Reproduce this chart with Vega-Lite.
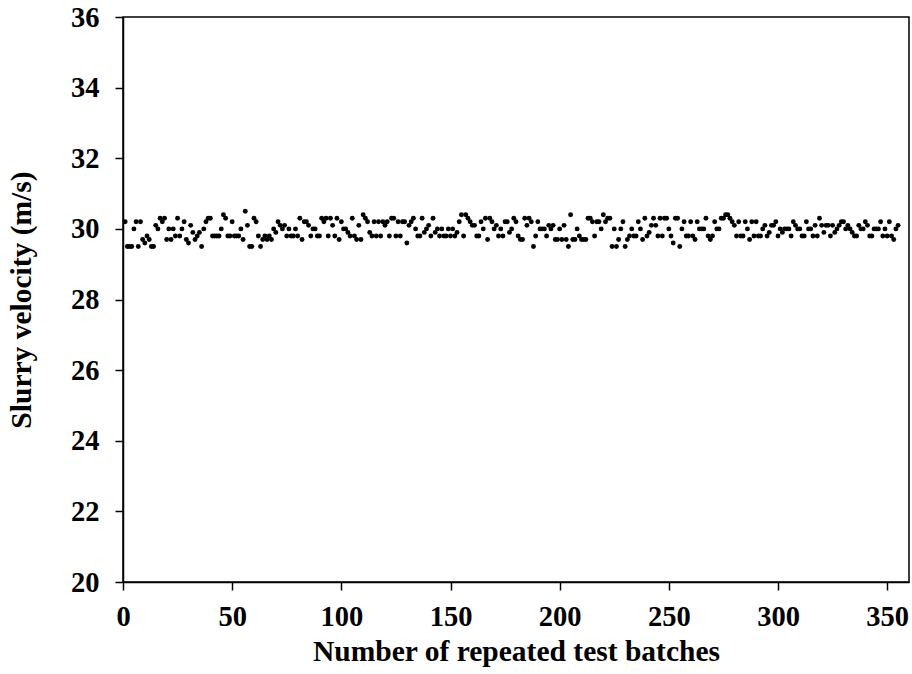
{
  "$schema": "https://vega.github.io/schema/vega-lite/v6.json",
  "width": 786,
  "height": 565,
  "autosize": {"type": "none"},
  "padding": {"left": 123, "top": 17, "right": 3, "bottom": 92},
  "background": "white",
  "config": {
    "view": {"stroke": "black", "strokeWidth": 1.5},
    "font": "Liberation Serif",
    "axis": {
      "grid": false,
      "domainColor": "black",
      "domainWidth": 1.5,
      "tickColor": "black",
      "tickWidth": 1.5,
      "tickSize": 8,
      "labelFont": "Liberation Serif",
      "labelFontSize": 28.5,
      "labelFontWeight": "bold",
      "labelColor": "black",
      "titleFont": "Liberation Serif",
      "titleFontSize": 29.5,
      "titleFontWeight": "bold",
      "titleColor": "black"
    }
  },
  "data": {
    "values": [
      {"x":1,"v":30.2},{"x":2,"v":29.5},{"x":3,"v":29.5},{"x":4,"v":29.5},{"x":5,"v":30.0},{"x":6,"v":30.2},{"x":7,"v":29.5},{"x":8,"v":30.2},{"x":9,"v":29.7},{"x":10,"v":29.6},
      {"x":11,"v":29.8},{"x":12,"v":29.7},{"x":13,"v":29.5},{"x":14,"v":29.5},{"x":15,"v":30.1},{"x":16,"v":30.0},{"x":17,"v":30.3},{"x":18,"v":30.2},{"x":19,"v":30.3},{"x":20,"v":29.7},
      {"x":21,"v":30.0},{"x":22,"v":29.7},{"x":23,"v":30.0},{"x":24,"v":29.8},{"x":25,"v":30.3},{"x":26,"v":29.8},{"x":27,"v":30.0},{"x":28,"v":30.2},{"x":29,"v":29.7},{"x":30,"v":29.6},
      {"x":31,"v":30.1},{"x":32,"v":29.9},{"x":33,"v":29.7},{"x":34,"v":29.8},{"x":35,"v":29.9},{"x":36,"v":29.5},{"x":37,"v":30.0},{"x":38,"v":30.2},{"x":39,"v":30.3},{"x":40,"v":30.3},
      {"x":41,"v":29.8},{"x":42,"v":29.8},{"x":43,"v":29.8},{"x":44,"v":29.8},{"x":45,"v":30.0},{"x":46,"v":30.4},{"x":47,"v":30.3},{"x":48,"v":29.8},{"x":49,"v":29.8},{"x":50,"v":30.2},
      {"x":51,"v":29.8},{"x":52,"v":29.8},{"x":53,"v":29.8},{"x":54,"v":30.0},{"x":55,"v":29.7},{"x":56,"v":30.5},{"x":57,"v":30.1},{"x":58,"v":29.5},{"x":59,"v":29.5},{"x":60,"v":30.3},
      {"x":61,"v":30.2},{"x":62,"v":29.8},{"x":63,"v":29.5},{"x":64,"v":29.7},{"x":65,"v":29.8},{"x":66,"v":29.7},{"x":67,"v":29.8},{"x":68,"v":29.7},{"x":69,"v":30.0},{"x":70,"v":29.9},
      {"x":71,"v":30.2},{"x":72,"v":30.1},{"x":73,"v":30.0},{"x":74,"v":30.1},{"x":75,"v":29.8},{"x":76,"v":30.0},{"x":77,"v":29.8},{"x":78,"v":29.8},{"x":79,"v":30.0},{"x":80,"v":29.8},
      {"x":81,"v":30.3},{"x":82,"v":29.7},{"x":83,"v":30.2},{"x":84,"v":30.2},{"x":85,"v":30.1},{"x":86,"v":29.8},{"x":87,"v":30.0},{"x":88,"v":30.0},{"x":89,"v":29.8},{"x":90,"v":29.8},
      {"x":91,"v":30.3},{"x":92,"v":30.2},{"x":93,"v":30.3},{"x":94,"v":29.8},{"x":95,"v":30.3},{"x":96,"v":30.1},{"x":97,"v":29.8},{"x":98,"v":30.3},{"x":99,"v":29.7},{"x":100,"v":30.2},
      {"x":101,"v":30.0},{"x":102,"v":30.0},{"x":103,"v":29.9},{"x":104,"v":29.8},{"x":105,"v":30.3},{"x":106,"v":29.8},{"x":107,"v":29.7},{"x":108,"v":30.1},{"x":109,"v":29.7},{"x":110,"v":30.4},
      {"x":111,"v":30.3},{"x":112,"v":30.2},{"x":113,"v":29.9},{"x":114,"v":29.8},{"x":115,"v":30.2},{"x":116,"v":29.8},{"x":117,"v":30.2},{"x":118,"v":29.8},{"x":119,"v":30.2},{"x":120,"v":30.1},
      {"x":121,"v":30.2},{"x":122,"v":29.8},{"x":123,"v":30.3},{"x":124,"v":30.3},{"x":125,"v":29.8},{"x":126,"v":30.2},{"x":127,"v":29.8},{"x":128,"v":30.2},{"x":129,"v":30.2},{"x":130,"v":29.6},
      {"x":131,"v":30.1},{"x":132,"v":30.2},{"x":133,"v":30.3},{"x":134,"v":30.0},{"x":135,"v":29.8},{"x":136,"v":29.8},{"x":137,"v":30.3},{"x":138,"v":29.9},{"x":139,"v":30.0},{"x":140,"v":30.1},
      {"x":141,"v":29.8},{"x":142,"v":30.3},{"x":143,"v":29.9},{"x":144,"v":30.0},{"x":145,"v":29.8},{"x":146,"v":30.0},{"x":147,"v":29.8},{"x":148,"v":29.8},{"x":149,"v":30.0},{"x":150,"v":29.8},
      {"x":151,"v":30.0},{"x":152,"v":29.8},{"x":153,"v":29.9},{"x":154,"v":30.2},{"x":155,"v":30.4},{"x":156,"v":29.8},{"x":157,"v":30.4},{"x":158,"v":30.3},{"x":159,"v":30.2},{"x":160,"v":30.1},
      {"x":161,"v":30.1},{"x":162,"v":29.8},{"x":163,"v":29.8},{"x":164,"v":30.2},{"x":165,"v":30.0},{"x":166,"v":30.3},{"x":167,"v":29.7},{"x":168,"v":30.3},{"x":169,"v":30.2},{"x":170,"v":30.0},
      {"x":171,"v":30.1},{"x":172,"v":29.8},{"x":173,"v":30.0},{"x":174,"v":29.8},{"x":175,"v":30.2},{"x":176,"v":30.2},{"x":177,"v":29.9},{"x":178,"v":30.0},{"x":179,"v":30.3},{"x":180,"v":30.2},
      {"x":181,"v":29.8},{"x":182,"v":29.7},{"x":183,"v":29.7},{"x":184,"v":30.3},{"x":185,"v":30.1},{"x":186,"v":30.3},{"x":187,"v":30.2},{"x":188,"v":29.5},{"x":189,"v":29.8},{"x":190,"v":30.2},
      {"x":191,"v":30.0},{"x":192,"v":30.0},{"x":193,"v":30.0},{"x":194,"v":29.8},{"x":195,"v":30.1},{"x":196,"v":30.0},{"x":197,"v":30.1},{"x":198,"v":29.7},{"x":199,"v":29.7},{"x":200,"v":30.0},
      {"x":201,"v":29.7},{"x":202,"v":30.1},{"x":203,"v":29.7},{"x":204,"v":29.5},{"x":205,"v":30.4},{"x":206,"v":29.7},{"x":207,"v":29.7},{"x":208,"v":30.0},{"x":209,"v":29.8},{"x":210,"v":29.7},
      {"x":211,"v":29.7},{"x":212,"v":29.7},{"x":213,"v":30.3},{"x":214,"v":30.3},{"x":215,"v":30.2},{"x":216,"v":29.8},{"x":217,"v":30.2},{"x":218,"v":30.2},{"x":219,"v":30.0},{"x":220,"v":30.4},
      {"x":221,"v":30.2},{"x":222,"v":30.3},{"x":223,"v":30.3},{"x":224,"v":29.5},{"x":225,"v":30.0},{"x":226,"v":29.5},{"x":227,"v":29.7},{"x":228,"v":30.0},{"x":229,"v":30.2},{"x":230,"v":29.5},
      {"x":231,"v":29.7},{"x":232,"v":29.8},{"x":233,"v":30.0},{"x":234,"v":29.8},{"x":235,"v":29.8},{"x":236,"v":30.2},{"x":237,"v":30.0},{"x":238,"v":29.7},{"x":239,"v":30.3},{"x":240,"v":29.8},
      {"x":241,"v":29.9},{"x":242,"v":30.1},{"x":243,"v":30.3},{"x":244,"v":30.1},{"x":245,"v":29.8},{"x":246,"v":30.3},{"x":247,"v":29.8},{"x":248,"v":30.3},{"x":249,"v":30.3},{"x":250,"v":30.0},
      {"x":251,"v":29.8},{"x":252,"v":29.6},{"x":253,"v":30.3},{"x":254,"v":30.3},{"x":255,"v":29.5},{"x":256,"v":30.0},{"x":257,"v":30.2},{"x":258,"v":29.8},{"x":259,"v":29.8},{"x":260,"v":30.2},
      {"x":261,"v":29.8},{"x":262,"v":29.7},{"x":263,"v":30.2},{"x":264,"v":30.0},{"x":265,"v":30.0},{"x":266,"v":30.0},{"x":267,"v":30.3},{"x":268,"v":29.8},{"x":269,"v":29.7},{"x":270,"v":29.8},
      {"x":271,"v":30.2},{"x":272,"v":30.0},{"x":273,"v":30.0},{"x":274,"v":30.3},{"x":275,"v":30.3},{"x":276,"v":30.4},{"x":277,"v":30.4},{"x":278,"v":30.3},{"x":279,"v":30.2},{"x":280,"v":30.1},
      {"x":281,"v":29.8},{"x":282,"v":30.2},{"x":283,"v":29.8},{"x":284,"v":29.8},{"x":285,"v":30.2},{"x":286,"v":30.0},{"x":287,"v":29.7},{"x":288,"v":30.2},{"x":289,"v":29.8},{"x":290,"v":30.2},
      {"x":291,"v":29.8},{"x":292,"v":29.8},{"x":293,"v":30.0},{"x":294,"v":30.1},{"x":295,"v":29.8},{"x":296,"v":29.9},{"x":297,"v":30.1},{"x":298,"v":30.1},{"x":299,"v":30.2},{"x":300,"v":29.8},
      {"x":301,"v":30.0},{"x":302,"v":29.9},{"x":303,"v":30.0},{"x":304,"v":30.0},{"x":305,"v":30.0},{"x":306,"v":29.8},{"x":307,"v":30.2},{"x":308,"v":30.1},{"x":309,"v":30.0},{"x":310,"v":30.0},
      {"x":311,"v":29.8},{"x":312,"v":29.8},{"x":313,"v":30.2},{"x":314,"v":30.0},{"x":315,"v":30.0},{"x":316,"v":29.8},{"x":317,"v":30.1},{"x":318,"v":29.8},{"x":319,"v":30.3},{"x":320,"v":30.1},
      {"x":321,"v":29.9},{"x":322,"v":30.1},{"x":323,"v":30.1},{"x":324,"v":29.8},{"x":325,"v":30.1},{"x":326,"v":29.9},{"x":327,"v":30.0},{"x":328,"v":30.1},{"x":329,"v":30.2},{"x":330,"v":30.2},
      {"x":331,"v":30.0},{"x":332,"v":30.1},{"x":333,"v":30.0},{"x":334,"v":29.9},{"x":335,"v":29.8},{"x":336,"v":29.8},{"x":337,"v":30.1},{"x":338,"v":30.0},{"x":339,"v":30.0},{"x":340,"v":30.2},
      {"x":341,"v":30.1},{"x":342,"v":29.8},{"x":343,"v":29.8},{"x":344,"v":30.0},{"x":345,"v":30.0},{"x":346,"v":30.0},{"x":347,"v":30.2},{"x":348,"v":29.8},{"x":349,"v":30.0},{"x":350,"v":29.8},
      {"x":351,"v":30.2},{"x":352,"v":29.8},{"x":353,"v":29.7},{"x":354,"v":30.0},{"x":355,"v":30.1}
    ]
  },
  "mark": {"type": "point", "filled": true, "color": "black", "size": 24, "opacity": 1},
  "encoding": {
    "x": {
      "field": "x",
      "type": "quantitative",
      "scale": {"domain": [0, 360], "nice": false, "zero": false},
      "axis": {
        "values": [0, 50, 100, 150, 200, 250, 300, 350],
        "title": "Number of repeated test batches",
        "labelPadding": 12,
        "titlePadding": 7,
        "labelFlush": false
      }
    },
    "y": {
      "field": "v",
      "type": "quantitative",
      "scale": {"domain": [20, 36], "nice": false, "zero": false},
      "axis": {
        "values": [20, 22, 24, 26, 28, 30, 32, 34, 36],
        "title": "Slurry velocity (m/s)",
        "labelPadding": 16,
        "titlePadding": 34,
        "labelFlush": false
      }
    }
  }
}
